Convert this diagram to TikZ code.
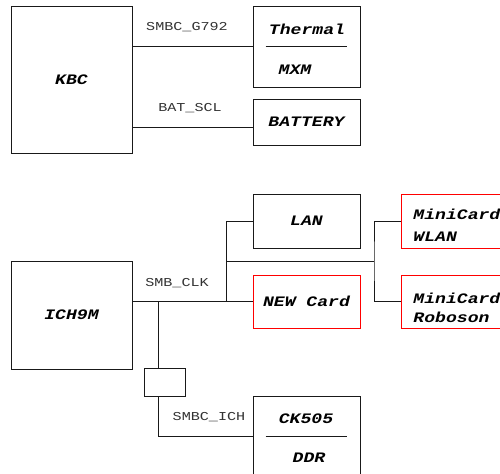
\documentclass[tikz,border=0pt]{standalone}
\usepackage{fontspec}
\setmonofont{Liberation Mono}
\def\px{0.02cm}
\newcommand\flatname[1]{\scalebox{1}[0.8]{#1}}

\begin{document}
\begin{tikzpicture}[x=\px,y=-\px,line width=0.55pt,draw=black!90]
    \tikzstyle{chip}=[draw,rectangle,inner sep=0pt,font=\ttfamily\bfseries\itshape\fontsize{10.3}{11.5}\selectfont]
    \tikzstyle{new chip}=[chip,draw=red]
    \tikzstyle{chip text}=[inner sep=0pt,font=\ttfamily\bfseries\itshape\fontsize{10.3}{11.5}\selectfont]
    \tikzstyle{signal}=[inner sep=0pt,font=\ttfamily\fontsize{8.6}{10}\selectfont,text=black!80]

    \clip (0,0) rectangle (500,473);

    % Draw the KBC and its slaves
    \node[chip,minimum width=121*\px,minimum height=147*\px] (kbc) at (71.5,79.5) {\flatname{KBC}};
    \node[chip,minimum width=107*\px,minimum height=81*\px] (thermal) at (306.5,46.5) {};
    \node[chip text] (thermal-t) at (307,29) {\flatname{Thermal}};
    \node[chip text] (mxm) at (295,70) {\flatname{MXM}};
    \draw ([xshift=13*\px]thermal.west) -- ([xshift=-13*\px]thermal.east);
    \node[chip,minimum width=107*\px,minimum height=46*\px] (battery) at (306.5,122) {\flatname{BATTERY}};

    % SMBus lines of the KBC
    \coordinate (bat-line) at (200,127);
    \draw (thermal.west) -- (thermal.west -| kbc.east);
    \draw (kbc.east |- bat-line) -- (battery.west |- bat-line);
    \node[signal] at (187,27) {\flatname{SMBC\_G792}};
    \node[signal] at (190,108) {\flatname{BAT\_SCL}};

    % Draw the ICH9M and its slaves
    \node[chip,minimum width=121*\px,minimum height=108*\px] (ich) at (71.5,315) {\flatname{ICH9M}};
    \node[chip,minimum width=107*\px,minimum height=54*\px] (lan) at (306.5,221) {\flatname{LAN}};
    \node[new chip,minimum width=107*\px,minimum height=53*\px] (newcard) at (306.5,301.5) {\flatname{NEW Card}};
    \node[new chip,minimum width=110*\px,minimum height=54*\px] (wlan) at (456,221) {};
    \node[new chip,minimum width=110*\px,minimum height=53*\px] (roboson) at (456,301.5) {};
    \node[chip text,anchor=west] (wlan-t1) at (413,214.5) {\flatname{MiniCard}};
    \node[chip text,anchor=west] (wlan-t2) at (413,236.5) {\flatname{WLAN}};
    \node[chip text,anchor=west] (roboson-t1) at (413,298) {\flatname{MiniCard}};
    \node[chip text,anchor=base west] (roboson-t2) at (413,322) {\flatname{Roboson}};
    \node[chip,minimum width=41*\px,minimum height=28*\px] (res) at (164.5,382) {};
    \node[chip,minimum width=107*\px,minimum height=80*\px] (ck) at (306.5,436) {};
    \node[chip text] (ck-t) at (306,419) {\flatname{CK505}};
    \node[chip text] (ddr) at (309,458) {\flatname{DDR}};
    \draw ([xshift=13*\px]ck.west) -- ([xshift=-13*\px]ck.east);

    % SMBus lines of the ICH9M
    \coordinate (bus) at (226,301.5);
    \coordinate (tap-l) at (226,261);
    \coordinate (tap-r) at (374,261);
    \coordinate (drop) at (158,301.5);
    \draw (newcard.west) -- (newcard.west -| ich.east);
    \draw (lan.west) -| (bus);
    \draw (tap-l) -- (tap-r);
    \draw (wlan.west) -| (tap-r) |- (roboson.west);
    \draw (drop) -- (drop |- res.north);
    \draw (drop |- res.south) |- (ck.west);
    \node[signal] at (177,283) {\flatname{SMB\_CLK}};
    \node[signal] at (209,417) {\flatname{SMBC\_ICH}};
\end{tikzpicture}
\end{document}
